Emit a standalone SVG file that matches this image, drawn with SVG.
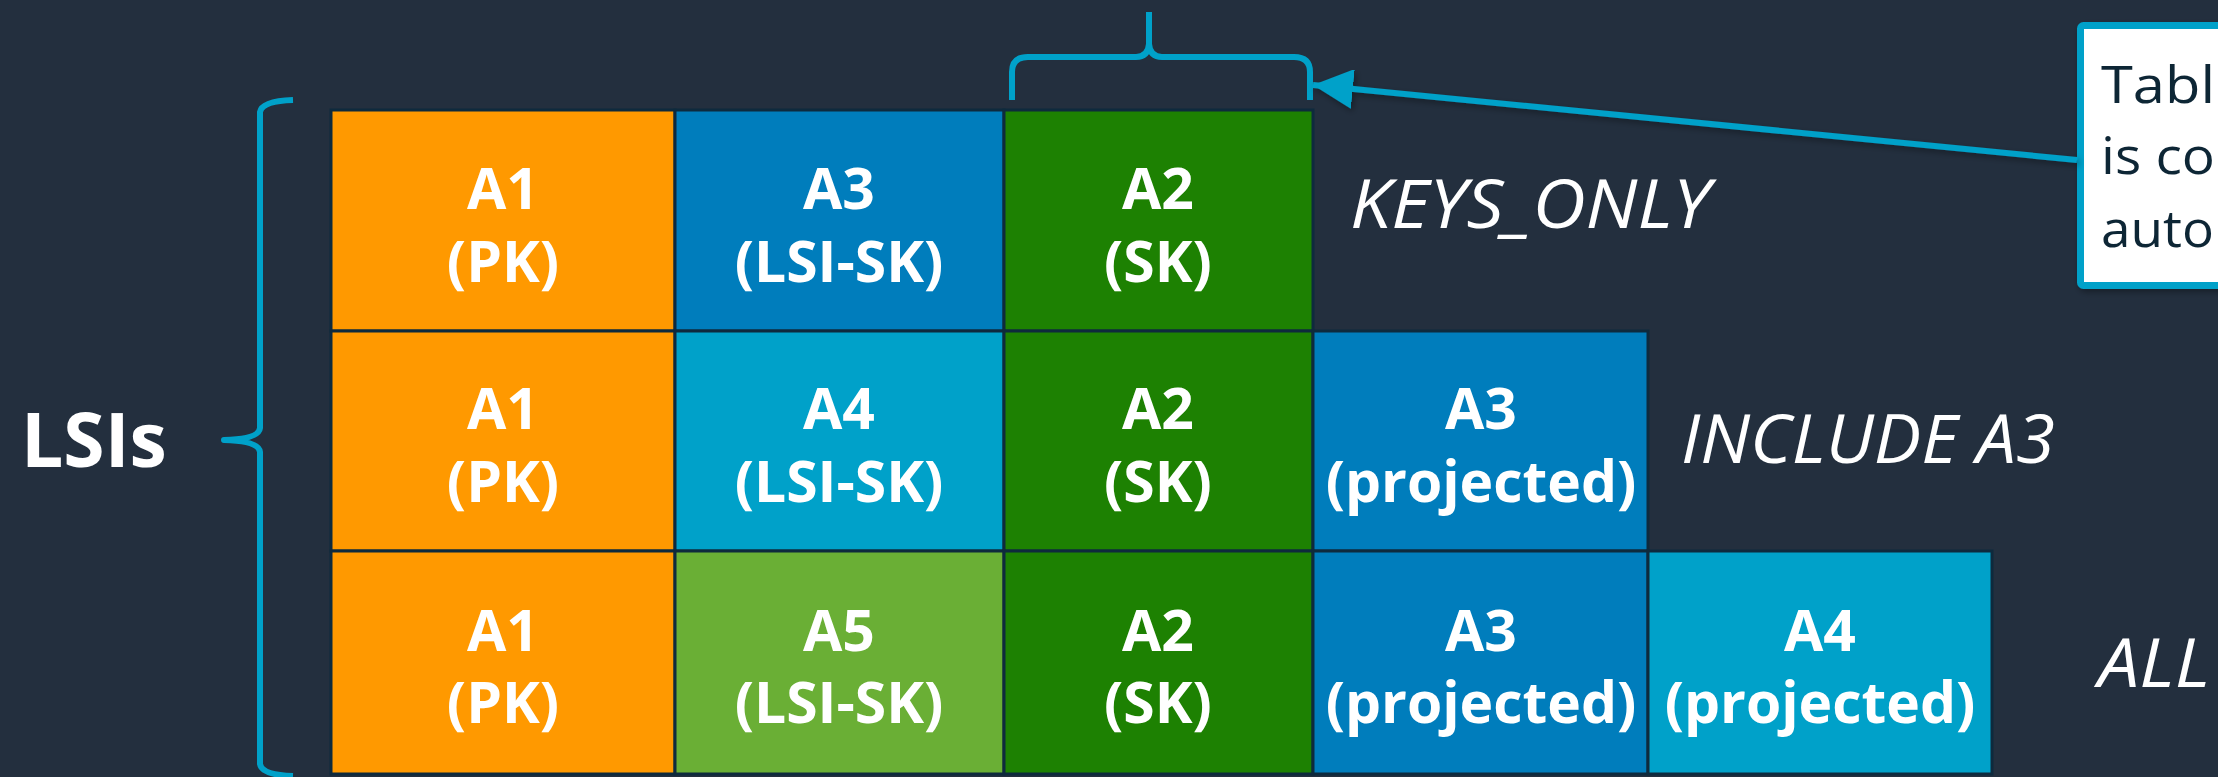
<svg xmlns="http://www.w3.org/2000/svg" width="2218" height="777" viewBox="0 0 2218 777">
  <style>
    .cell { stroke: #0e2a3d; stroke-width: 3; }
    .orange { fill: #ff9900; }
    .blue { fill: #007dbc; }
    .teal { fill: #00a1c9; }
    .green { fill: #1d8102; }
    .lime { fill: #6aaf35; }
    .lbl { font-family: "Open Sans", "Noto Sans", "Liberation Sans", sans-serif; font-weight: 700; font-size: 57px; fill: #ffffff; text-anchor: middle; }
    .proj { font-family: "Open Sans", "Noto Sans", "Liberation Sans", sans-serif; font-weight: 400; font-style: italic; font-size: 68px; fill: #ffffff; }
    .brace { fill: none; stroke: #00a1c9; stroke-width: 6; stroke-linecap: butt; stroke-linejoin: round; }
    .note { font-family: "Open Sans", "Noto Sans", "Liberation Sans", sans-serif; font-weight: 400; font-size: 52px; fill: #0f2636; }
  </style>
  <defs>
    <marker id="arrowhead" markerUnits="userSpaceOnUse" markerWidth="42" markerHeight="42" refX="40" refY="20" orient="auto">
      <path d="M0,0 L40,20 L0,40 Z" fill="#00a1c9"/>
    </marker>
    <filter id="shadow" x="-5%" y="-20%" width="110%" height="140%">
      <feDropShadow dx="2" dy="3" stdDeviation="3" flood-color="#000000" flood-opacity="0.35"/>
    </filter>
  </defs>

  <rect width="2218" height="777" fill="#232f3e"/>

  <!-- LSI bracket and label -->
  <g id="lsi-label">
    <path class="brace" d="M293,100 Q262,101 260,112 L260,428 Q259,439 224,440 Q259,441 260,452 L260,764 Q262,775 293,776"/>
    <text x="21" y="467" font-family="'Open Sans', 'Noto Sans', 'Liberation Sans', sans-serif" font-weight="700" font-size="75" fill="#ffffff">LSIs</text>
  </g>

  <!-- Row 1: KEYS_ONLY -->
  <g id="row-keys-only">
    <rect class="cell orange" x="331" y="110" width="344" height="221"/>
    <text class="lbl" x="503" y="209">A1</text><text class="lbl" x="503" y="282">(PK)</text>
    <rect class="cell blue" x="675" y="110" width="329" height="221"/>
    <text class="lbl" x="839" y="209">A3</text><text class="lbl" x="839" y="282">(LSI-SK)</text>
    <rect class="cell green" x="1004" y="110" width="309" height="221"/>
    <text class="lbl" x="1158" y="209">A2</text><text class="lbl" x="1158" y="282">(SK)</text>
    <text class="proj" x="1350" y="228" textLength="360" lengthAdjust="spacingAndGlyphs">KEYS_ONLY</text>
  </g>

  <!-- Row 2: INCLUDE A3 -->
  <g id="row-include">
    <rect class="cell orange" x="331" y="331" width="344" height="220"/>
    <text class="lbl" x="503" y="429">A1</text><text class="lbl" x="503" y="502">(PK)</text>
    <rect class="cell teal" x="675" y="331" width="329" height="220"/>
    <text class="lbl" x="839" y="429">A4</text><text class="lbl" x="839" y="502">(LSI-SK)</text>
    <rect class="cell green" x="1004" y="331" width="309" height="220"/>
    <text class="lbl" x="1158" y="429">A2</text><text class="lbl" x="1158" y="502">(SK)</text>
    <rect class="cell blue" x="1313" y="331" width="335" height="220"/>
    <text class="lbl" x="1481" y="429">A3</text><text class="lbl" x="1481" y="502">(projected)</text>
    <text class="proj" x="1681" y="463" textLength="374" lengthAdjust="spacingAndGlyphs">INCLUDE A3</text>
  </g>

  <!-- Row 3: ALL -->
  <g id="row-all">
    <rect class="cell orange" x="331" y="551" width="344" height="223"/>
    <text class="lbl" x="503" y="651">A1</text><text class="lbl" x="503" y="723">(PK)</text>
    <rect class="cell lime" x="675" y="551" width="329" height="223"/>
    <text class="lbl" x="839" y="651">A5</text><text class="lbl" x="839" y="723">(LSI-SK)</text>
    <rect class="cell green" x="1004" y="551" width="309" height="223"/>
    <text class="lbl" x="1158" y="651">A2</text><text class="lbl" x="1158" y="723">(SK)</text>
    <rect class="cell blue" x="1313" y="551" width="335" height="223"/>
    <text class="lbl" x="1481" y="651">A3</text><text class="lbl" x="1481" y="723">(projected)</text>
    <rect class="cell teal" x="1648" y="551" width="344" height="223"/>
    <text class="lbl" x="1820" y="651">A4</text><text class="lbl" x="1820" y="723">(projected)</text>
    <text class="proj" x="2098" y="687" textLength="112" lengthAdjust="spacingAndGlyphs">ALL</text>
  </g>

  <!-- Brace over the sort key column -->
  <g id="sk-brace">
    <path class="brace" d="M1012,100 L1012,72 Q1012,57 1028,57 L1136,57 Q1148,57 1149,44 L1149,12 M1149,44 Q1150,57 1162,57 L1294,57 Q1310,57 1310,72 L1310,100"/>
  </g>

  <!-- Callout note -->
  <g id="note" filter="url(#shadow)">
    <rect x="2080.5" y="25.5" width="200" height="260" rx="3" fill="#ffffff" stroke="#00a1c9" stroke-width="7"/>
    <text class="note" x="2101" y="103" textLength="114" lengthAdjust="spacingAndGlyphs">Tabl</text>
    <text class="note" x="2101" y="174" textLength="114" lengthAdjust="spacingAndGlyphs">is co</text>
    <text class="note" x="2101" y="247" textLength="113" lengthAdjust="spacingAndGlyphs">auto</text>
  </g>

  <!-- Connectors -->
  <g id="connectors" filter="url(#shadow)">
    <line x1="2077" y1="160" x2="1313" y2="85" stroke="#00a1c9" stroke-width="6" marker-end="url(#arrowhead)"/>
  </g>
</svg>
